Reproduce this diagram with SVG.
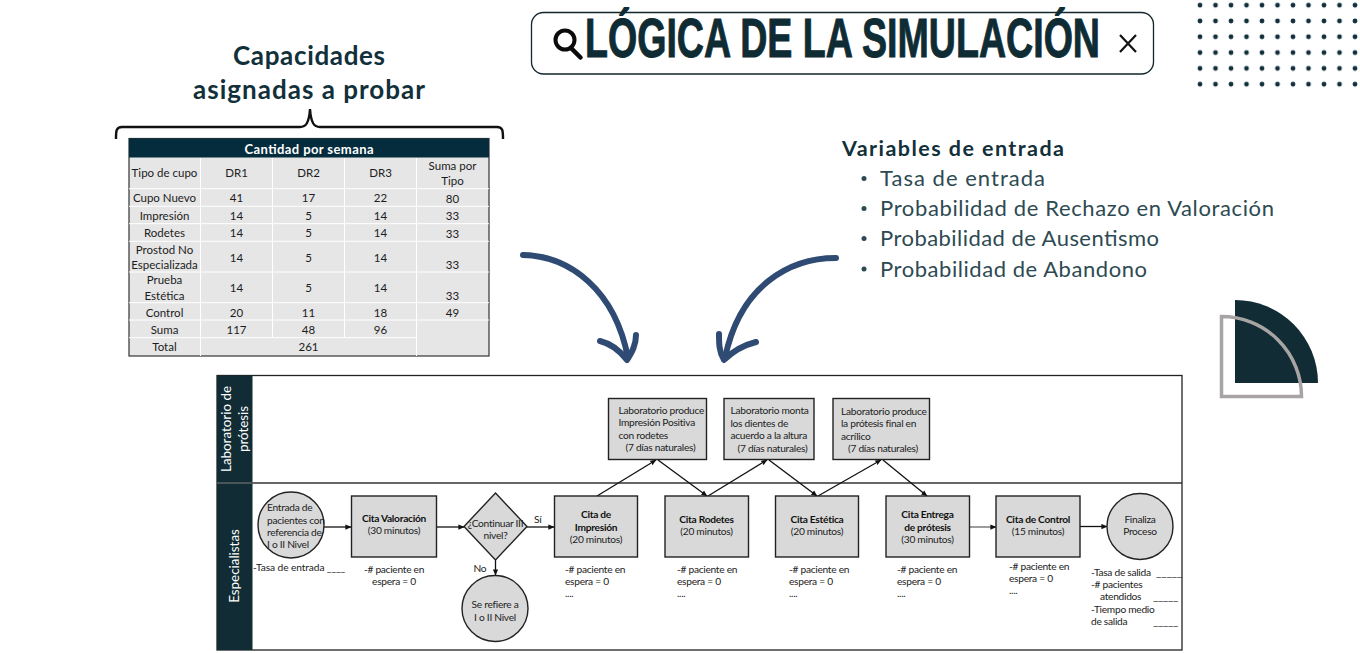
<svg xmlns="http://www.w3.org/2000/svg" width="1360" height="653" viewBox="0 0 1360 653">
<style>
text{font-family:"Lato","Liberation Sans",sans-serif;fill:#222}
.h{font-size:26px;font-weight:700;fill:#12303a;text-anchor:middle}
.v{font-size:22px;font-weight:400;fill:#2d4a52}
.t{font-size:11.5px;text-anchor:middle;fill:#1c1c1c}
.d{font-size:10.2px;letter-spacing:-.28px;fill:#222}
.m{text-anchor:middle}
.b{font-weight:700;fill:#111}
.s{fill:#d9d9d9;stroke:#222;stroke-width:1.4}
.c{fill:none;stroke:#111;stroke-width:1.3;marker-end:url(#ah)}
.l{fill:#fff;font-size:13.4px;text-anchor:middle}
.ar{fill:none;stroke:#2f4b73;stroke-linecap:round;stroke-linejoin:round}
.g{stroke:#fff;stroke-width:1;fill:none}
</style>
<defs>
<marker id="ah" viewBox="0 0 8 8" refX="7.5" refY="4" markerWidth="6" markerHeight="6" markerUnits="userSpaceOnUse" orient="auto"><path d="M0 0.5L8 4L0 7.5z" fill="#111"/></marker>
<pattern id="dots" x="1192.25" y="-2.7" width="15.5" height="15.8" patternUnits="userSpaceOnUse"><circle cx="7.75" cy="7.9" r="2.4" fill="#12303a"/></pattern>
</defs>

<g id="search-bar">
<rect x="531.5" y="12.5" width="622" height="61.500" rx="12" fill="#fff" stroke="#12262c" stroke-width="1.300"/>
<circle cx="565" cy="40" r="9.500" fill="none" stroke="#0b0b0b" stroke-width="4"/>
<path d="M571 48L580.500 57.500" stroke="#0b0b0b" stroke-width="4.500" stroke-linecap="round"/>
<text x="585" y="57" font-size="56" font-weight="700" textLength="515" lengthAdjust="spacingAndGlyphs" style="font-family:'Liberation Sans Narrow','Liberation Sans',sans-serif;fill:#0f2b33;stroke:#0f2b33;stroke-width:1">LÓGICA DE LA SIMULACIÓN</text>
<path d="M1120 35L1136 52M1136 35L1120 52" stroke="#111" stroke-width="2.200" fill="none"/>
</g>
<rect id="dot-grid" x="1192" y="-2" width="168" height="95" fill="url(#dots)"/>

<g id="capacidades-title">
<text class="h" x="309" y="65" textLength="152" lengthAdjust="spacing">Capacidades</text>
<text class="h" x="309" y="99" textLength="232" lengthAdjust="spacing">asignadas a probar</text>
<path d="M116 139C116 131 116 127 122 127H300C306 127 309 123 310 109C311 123 314 127 320 127H497C503 127 503 131 503 139" fill="none" stroke="#111" stroke-width="2.400"/>
</g>

<g id="capacity-table">
<rect x="129" y="138.500" width="360" height="217.500" fill="#e6e6e6" stroke="#333" stroke-width="1.200"/>
<rect x="129" y="138.500" width="360" height="19" fill="#052c3d"/>
<path class="g" d="M129 188.700H489M129 206.300H489M129 223.700H489M129 241.300H489M129 272H489M129 302.700H489M129 320H489M129 337.700H416.500M200.500 158V356M272.500 158V337.700M344.500 158V337.700M416.500 158V356"/>
<text x="309" y="153.500" class="t" textLength="129" style="fill:#fff;font-size:13px;font-weight:700">Cantidad por semana</text>
<text class="t" x="164.500" y="177">Tipo de cupo</text><text class="t" x="236.500" y="177">DR1</text><text class="t" x="308.500" y="177">DR2</text><text class="t" x="380.500" y="177">DR3</text><text class="t" x="452.500" y="170">Suma por</text><text class="t" x="452.500" y="185">Tipo</text>
<text class="t" x="164.500" y="202">Cupo Nuevo</text><text class="t" x="236.500" y="202">41</text><text class="t" x="308.500" y="202">17</text><text class="t" x="380.500" y="202">22</text><text class="t" x="452.500" y="202.500">80</text>
<text class="t" x="164.500" y="219.500">Impresión</text><text class="t" x="236.500" y="219.500">14</text><text class="t" x="308.500" y="219.500">5</text><text class="t" x="380.500" y="219.500">14</text><text class="t" x="452.500" y="220">33</text>
<text class="t" x="164.500" y="237">Rodetes</text><text class="t" x="236.500" y="237">14</text><text class="t" x="308.500" y="237">5</text><text class="t" x="380.500" y="237">14</text><text class="t" x="452.500" y="237.500">33</text>
<text class="t" x="164.500" y="254">Prostod No</text><text class="t" x="164.500" y="269">Especializada</text><text class="t" x="236.500" y="261.500">14</text><text class="t" x="308.500" y="261.500">5</text><text class="t" x="380.500" y="261.500">14</text><text class="t" x="452.500" y="269">33</text>
<text class="t" x="164.500" y="284">Prueba</text><text class="t" x="164.500" y="299.500">Estética</text><text class="t" x="236.500" y="292">14</text><text class="t" x="308.500" y="292">5</text><text class="t" x="380.500" y="292">14</text><text class="t" x="452.500" y="299.500">33</text>
<text class="t" x="164.500" y="316.500">Control</text><text class="t" x="236.500" y="316.500">20</text><text class="t" x="308.500" y="316.500">11</text><text class="t" x="380.500" y="316.500">18</text><text class="t" x="452.500" y="317">49</text>
<text class="t" x="164.500" y="334">Suma</text><text class="t" x="236.500" y="334">117</text><text class="t" x="308.500" y="334">48</text><text class="t" x="380.500" y="334">96</text>
<text class="t" x="164.500" y="351">Total</text><text class="t" x="308.500" y="351">261</text>
</g>

<g id="variables-entrada">
<text x="842" y="156" textLength="222" style="font-size:21.500px;font-weight:700;fill:#12303a">Variables de entrada</text>
<circle cx="864" cy="178.500" r="2.500" fill="#2d4a52"/><text class="v" x="880" y="186" textLength="165">Tasa de entrada</text>
<circle cx="864" cy="208.500" r="2.500" fill="#2d4a52"/><text class="v" x="880" y="216" textLength="394">Probabilidad de Rechazo en Valoración</text>
<circle cx="864" cy="238.500" r="2.500" fill="#2d4a52"/><text class="v" x="880" y="246" textLength="279">Probabilidad de Ausentismo</text>
<circle cx="864" cy="269" r="2.500" fill="#2d4a52"/><text class="v" x="880" y="277" textLength="267">Probabilidad de Abandono</text>
</g>

<g id="curved-arrows">
<path class="ar" stroke-width="6" d="M523 255C570 256 615 290 628 358"/>
<path class="ar" stroke-width="6" d="M600 341C612 344 621 352 627 360C632 352 636 345 636 335"/>
<path class="ar" stroke-width="6" d="M836 258C790 258 740 285 725 358"/>
<path class="ar" stroke-width="6" d="M756 342C744 345 732 352 724 360C719 352 719 343 719 334"/>
</g>

<g id="quarter-decor">
<path d="M1235 383V300A83 83 0 0 1 1318 383Z" fill="#112c34"/>
<path d="M1221.500 316.500A80 80 0 0 1 1301.500 396.500H1221.500Z" fill="none" stroke="#a8a4a4" stroke-width="3.500"/>
</g>

<g id="swimlane">
<rect x="217" y="375.500" width="965" height="274.500" fill="#fff" stroke="#222" stroke-width="1.300"/>
<rect x="217" y="375.500" width="35.500" height="274.500" fill="#112c34"/>
<path d="M217 483H1182" stroke="#333" stroke-width="1.300"/>
<path d="M217 483H252.500" stroke="#6b7b80" stroke-width="1"/>
<text class="l" transform="translate(231,429) rotate(-90)">Laboratorio de</text>
<text class="l" transform="translate(248,429) rotate(-90)">prótesis</text>
<text class="l" transform="translate(239,566) rotate(-90)">Especialistas</text>
</g>

<g id="connectors">
<path class="c" d="M324 527H351"/>
<path class="c" d="M437 527H464"/>
<path class="c" d="M527 527H554"/>
<path class="c" d="M495.500 560V575"/>
<path class="c" d="M597 496L656 460"/>
<path class="c" d="M658 460L707 496"/>
<path class="c" d="M708 496L767 460"/>
<path class="c" d="M769 460L817 496"/>
<path class="c" d="M818 496L881 460"/>
<path class="c" d="M883 460L927 496"/>
<path class="c" style="stroke:#666" d="M969 527H996"/>
<path class="c" d="M1080 526.500H1107"/>
<text class="d" x="534" y="522.500">Sí</text>
<text class="d" x="473.500" y="572">No</text>
</g>

<g id="node-entrada">
<circle class="s" cx="291" cy="525" r="33"/>
<text class="d" x="267" y="511">Entrada de</text><text class="d" x="267" y="523.500">pacientes con</text><text class="d" x="267" y="536">referencia de</text><text class="d" x="267" y="548">I o II Nivel</text>
<text class="d" x="253" y="571" textLength="92">-Tasa de entrada ____</text>
</g>
<g id="node-valoracion">
<rect class="s" x="351.500" y="496" width="85" height="61"/>
<text class="d m b" x="394" y="522">Cita Valoración</text><text class="d m" x="394" y="534">(30 minutos)</text>
<text class="d m" x="394" y="572.500">-# paciente en</text><text class="d m" x="394" y="585">espera = 0</text>
</g>
<g id="node-continuar">
<path class="s" d="M495.500 493L527 526.500L495.500 560L464 526.500Z"/>
<text class="d m" x="495.500" y="527">¿Continuar III</text><text class="d m" x="495.500" y="539">nivel?</text>
</g>
<g id="node-refiere">
<circle class="s" cx="495" cy="608.500" r="33"/>
<text class="d m" x="495" y="608">Se refiere a</text><text class="d m" x="495" y="620.500">I o II Nivel</text>
</g>
<g id="node-impresion">
<rect class="s" x="554.500" y="496" width="83" height="61"/>
<text class="d m b" x="596" y="518">Cita de</text><text class="d m b" x="596" y="530.500">Impresión</text><text class="d m" x="596" y="543">(20 minutos)</text>
<text class="d" x="565" y="572.500">-# paciente en</text><text class="d" x="565" y="585">espera = 0</text><text class="d" x="565" y="597">....</text>
</g>
<g id="node-rodetes">
<rect class="s" x="665" y="496" width="83.500" height="61"/>
<text class="d m b" x="706.500" y="522.500">Cita Rodetes</text><text class="d m" x="706.500" y="535">(20 minutos)</text>
<text class="d" x="677" y="572.500">-# paciente en</text><text class="d" x="677" y="585">espera = 0</text><text class="d" x="677" y="597">....</text>
</g>
<g id="node-estetica">
<rect class="s" x="775.500" y="496" width="83" height="61"/>
<text class="d m b" x="817" y="522.500">Cita Estética</text><text class="d m" x="817" y="535">(20 minutos)</text>
<text class="d" x="789" y="572.500">-# paciente en</text><text class="d" x="789" y="585">espera = 0</text><text class="d" x="789" y="597">....</text>
</g>
<g id="node-entrega">
<rect class="s" x="886" y="496" width="83.500" height="61"/>
<text class="d m b" x="927.500" y="518">Cita Entrega</text><text class="d m b" x="927.500" y="530.500">de prótesis</text><text class="d m" x="927.500" y="543">(30 minutos)</text>
<text class="d" x="897" y="572.500">-# paciente en</text><text class="d" x="897" y="585">espera = 0</text><text class="d" x="897" y="597">....</text>
</g>
<g id="node-control">
<rect class="s" x="996" y="496" width="84" height="61"/>
<text class="d m b" x="1038" y="522.500">Cita de Control</text><text class="d m" x="1038" y="535">(15 minutos)</text>
<text class="d" x="1009" y="569.500">-# paciente en</text><text class="d" x="1009" y="581.500">espera = 0</text><text class="d" x="1009" y="594">....</text>
</g>
<g id="node-finaliza">
<circle class="s" cx="1140" cy="526.500" r="33"/>
<text class="d m" x="1140" y="522.500">Finaliza</text><text class="d m" x="1140" y="535">Proceso</text>
<text class="d" x="1091" y="575.500">-Tasa de salida<tspan x="1156" textLength="26" lengthAdjust="spacingAndGlyphs">_____</tspan></text>
<text class="d" x="1091" y="588">-# pacientes</text>
<text class="d" x="1100" y="600">atendidos<tspan x="1153" textLength="25" lengthAdjust="spacingAndGlyphs">_____</tspan></text>
<text class="d" x="1091" y="612.500">-Tiempo medio</text>
<text class="d" x="1091" y="624.500">de salida<tspan x="1153" textLength="25" lengthAdjust="spacingAndGlyphs">_____</tspan></text>
</g>
<g id="node-lab1">
<rect class="s" x="608.500" y="398.500" width="98" height="61"/>
<text class="d" x="618.500" y="414">Laboratorio produce</text><text class="d" x="618.500" y="426">Impresión Positiva</text><text class="d" x="618.500" y="438.500">con rodetes</text><text class="d" x="625.500" y="451">(7 días naturales)</text>
</g>
<g id="node-lab2">
<rect class="s" x="724" y="398.500" width="90" height="61"/>
<text class="d" x="730.500" y="414">Laboratorio monta</text><text class="d" x="730.500" y="426.500">los dientes de</text><text class="d" x="730.500" y="439">acuerdo a la altura</text><text class="d" x="737.500" y="451.500">(7 días naturales)</text>
</g>
<g id="node-lab3">
<rect class="s" x="833" y="398.500" width="96.500" height="61"/>
<text class="d" x="841" y="415">Laboratorio produce</text><text class="d" x="841" y="427">la prótesis final en</text><text class="d" x="841" y="440">acrílico</text><text class="d" x="848" y="452">(7 días naturales)</text>
</g>
</svg>
